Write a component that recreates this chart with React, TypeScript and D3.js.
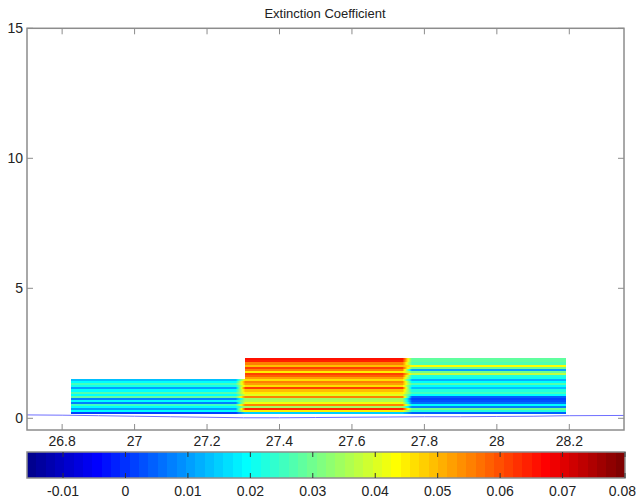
import React from "react";
import * as d3 from "d3";

const TITLE = "Extinction Coefficient";
const X_TICKS = [26.8, 27, 27.2, 27.4, 27.6, 27.8, 28, 28.2];
const Y_TICKS = [0, 5, 10, 15];
const C_TICKS = [-0.01, 0, 0.01, 0.02, 0.03, 0.04, 0.05, 0.06, 0.07, 0.08];
const X_DOMAIN = [26.703, 28.351];
const Y_DOMAIN = [-0.45, 15];
const C_DOMAIN = [-0.01577, 0.08];

// altitude levels (km), bottom to top
const ALTITUDES = [
  0.2, 0.28, 0.36, 0.44, 0.52, 0.6, 0.68, 0.76, 0.84, 0.92, 1.0, 1.08, 1.16, 1.24,
  1.32, 1.4, 1.48, 1.56, 1.64, 1.72, 1.8, 1.88, 1.96, 2.04, 2.12, 2.2, 2.28,
];
const ROW_HEIGHT = 0.08;

// profile columns (x extent in data units)
const BLOCK_START = [26.825, 27.305, 27.765];
const BLOCK_END = [27.28, 27.74, 28.19];

// extinction values per altitude level, bottom to top
const BLOCK1_VALUES = [
  0.002, 0.02, 0.01, 0.02, 0.026, 0.008, 0.02, 0.008, 0.028, 0.02, 0.027, 0.02,
  0.01, 0.021, 0.026, 0.02, 0.013,
];
const BLOCK2_VALUES = [
  0.015, 0.045, 0.064, 0.035, 0.056, 0.042, 0.036, 0.034, 0.056, 0.04, 0.045, 0.05,
  0.062, 0.047, 0.052, 0.055, 0.046, 0.052, 0.058, 0.062, 0.045, 0.055, 0.061, 0.05,
  0.056, 0.064, 0.066,
];
const BLOCK3_VALUES = [
  0.005, 0.022, 0.03, 0.007, 0.02, 0.006, 0.003, 0.001, 0.004, 0.02, 0.026, 0.022,
  0.014, 0.02, 0.027, 0.02, 0.012, 0.021, 0.022, 0.037, 0.03, 0.01, 0.03, 0.043,
  0.027, 0.029, 0.028,
];
const BLOCKS = [BLOCK1_VALUES, BLOCK2_VALUES, BLOCK3_VALUES];

// surface line
const SURFACE_X = [26.703, 26.8, 26.9, 27.0, 27.1, 27.2, 27.3, 27.4, 27.5, 27.6, 27.7, 27.8, 27.9, 28.0, 28.1, 28.2, 28.351];
const SURFACE_Y = [0.13, 0.12, 0.1, 0.08, 0.06, 0.04, 0.02, 0.02, 0.03, 0.04, 0.05, 0.06, 0.06, 0.07, 0.08, 0.1, 0.11];

const W = 637;
const H = 498;

function jetColor(t: number): string {
  const c = (v: number) => Math.max(0, Math.min(1, v));
  const r = c(1.5 - Math.abs(4 * t - 3));
  const g = c(1.5 - Math.abs(4 * t - 2));
  const b = c(1.5 - Math.abs(4 * t - 1));
  return d3.rgb(r * 255, g * 255, b * 255).formatHex();
}

const frac = d3.scaleLinear().domain(C_DOMAIN).range([0, 1]).clamp(true);
function colorOf(v: number): string {
  const idx = Math.min(63, Math.floor(frac(v) * 64));
  return jetColor((idx + 1) / 64);
}

export default function App() {
  const x = d3.scaleLinear().domain(X_DOMAIN).range([27, 624]);
  const y = d3.scaleLinear().domain(Y_DOMAIN).range([430, 28.3]);
  const cx = d3.scaleLinear().domain(C_DOMAIN).range([27, 625]);
  const cbTop = 452;
  const cbBot = 478;
  const axisColor = "#8c8c8c";
  const font = "Liberation Sans, Arial, Helvetica, sans-serif";

  const cells: React.ReactNode[] = [];
  BLOCKS.forEach((vals, bi) => {
    vals.forEach((v, li) => {
      const z = ALTITUDES[li];
      cells.push(
        <rect
          key={`c${bi}-${li}`}
          x={x(BLOCK_START[bi])}
          width={x(BLOCK_END[bi]) - x(BLOCK_START[bi])}
          y={y(z + ROW_HEIGHT / 2)}
          height={y(z - ROW_HEIGHT / 2) - y(z + ROW_HEIGHT / 2) + 0.3}
          fill={colorOf(v)}
        />
      );
    });
  });

  const grads: React.ReactNode[] = [];
  const trans: React.ReactNode[] = [];
  for (let bi = 0; bi < BLOCKS.length - 1; bi++) {
    const a = BLOCKS[bi];
    const b = BLOCKS[bi + 1];
    const n = Math.min(a.length, b.length);
    for (let li = 0; li < n; li++) {
      const id = `g${bi}-${li}`;
      const stops = d3.range(0, 9).map((k) => {
        const t = k / 8;
        const v = a[li] + (b[li] - a[li]) * t;
        return <stop key={k} offset={t} stopColor={colorOf(v)} />;
      });
      grads.push(
        <linearGradient key={id} id={id} x1="0" x2="1" y1="0" y2="0">
          {stops}
        </linearGradient>
      );
      const z = ALTITUDES[li];
      trans.push(
        <rect
          key={`t${id}`}
          x={x(BLOCK_END[bi]) - 0.2}
          width={x(BLOCK_START[bi + 1]) - x(BLOCK_END[bi]) + 0.4}
          y={y(z + ROW_HEIGHT / 2)}
          height={y(z - ROW_HEIGHT / 2) - y(z + ROW_HEIGHT / 2) + 0.3}
          fill={`url(#${id})`}
        />
      );
    }
  }

  const line = d3
    .line<number>()
    .x((_, i) => x(SURFACE_X[i]))
    .y((d) => y(d));

  const cbBands = d3.range(0, 64).map((i) => {
    const w = (625 - 27) / 64;
    return (
      <rect
        key={`cb${i}`}
        x={27 + i * w}
        y={cbTop}
        width={w + 0.4}
        height={cbBot - cbTop}
        fill={jetColor((i + 1) / 64)}
      />
    );
  });

  return (
    <svg
      width={W}
      height={H}
      style={{ position: "absolute", left: 0, top: 0, background: "#fff" }}
      fontFamily={font}
    >
      <defs>{grads}</defs>
      <rect x={0} y={0} width={W} height={H} fill="#fff" />
      <text x={325} y={18} textAnchor="middle" fontSize={13} fill="#222">
        {TITLE}
      </text>
      <g shapeRendering="crispEdges">
        {cells}
        {trans}
      </g>
      <path d={line(SURFACE_Y) || ""} fill="none" stroke="#6f6fff" strokeWidth={1} />
      {/* axes box */}
      <rect x={27} y={28.3} width={597} height={401.7} fill="none" stroke={axisColor} strokeWidth={1.5} />
      {X_TICKS.map((t) => (
        <g key={`xt${t}`}>
          <line x1={x(t)} x2={x(t)} y1={430} y2={424} stroke={axisColor} />
          <line x1={x(t)} x2={x(t)} y1={28.3} y2={34.3} stroke={axisColor} />
          <text x={x(t)} y={446} textAnchor="middle" fontSize={14} fill="#222">
            {String(t)}
          </text>
        </g>
      ))}
      {Y_TICKS.map((t) => (
        <g key={`yt${t}`}>
          <line x1={27} x2={33} y1={y(t)} y2={y(t)} stroke={axisColor} />
          <line x1={624} x2={618} y1={y(t)} y2={y(t)} stroke={axisColor} />
          <text x={23} y={y(t) + 5} textAnchor="end" fontSize={14} fill="#222">
            {String(t)}
          </text>
        </g>
      ))}
      {/* colorbar */}
      <g shapeRendering="crispEdges">{cbBands}</g>
      <rect x={27} y={cbTop} width={598} height={cbBot - cbTop} fill="none" stroke={axisColor} strokeWidth={1.5} />
      {C_TICKS.map((t, i) => {
        const last = i === C_TICKS.length - 1;
        return (
          <g key={`ct${t}`}>
            <line x1={cx(t)} x2={cx(t)} y1={cbTop} y2={cbTop + 5} stroke="#333" />
            <line x1={cx(t)} x2={cx(t)} y1={cbBot} y2={cbBot - 5} stroke="#333" />
            <text
              x={last ? 636 : cx(t)}
              y={496}
              textAnchor={last ? "end" : "middle"}
              fontSize={14}
              fill="#222"
            >
              {String(t)}
            </text>
          </g>
        );
      })}
    </svg>
  );
}
